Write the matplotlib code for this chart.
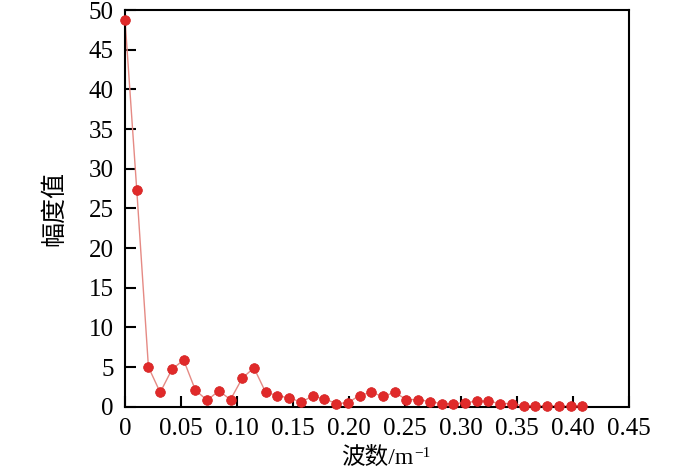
import matplotlib
matplotlib.use('Agg')
import matplotlib.pyplot as plt

plt.rcParams['font.family'] = ['Liberation Serif', 'Noto Sans CJK SC']

# wavenumber (1/m) and amplitude
wavenumber = [0.0000, 0.0105, 0.0209, 0.0314, 0.0419, 0.0523, 0.0628, 0.0733,
              0.0837, 0.0942, 0.1047, 0.1151, 0.1256, 0.1361, 0.1466, 0.1570,
              0.1675, 0.1780, 0.1884, 0.1989, 0.2094, 0.2198, 0.2303, 0.2408,
              0.2512, 0.2617, 0.2722, 0.2826, 0.2931, 0.3036, 0.3140, 0.3245,
              0.3350, 0.3454, 0.3559, 0.3664, 0.3768, 0.3873, 0.3978, 0.4083]
amplitude = [48.8, 27.3, 5.0, 1.8, 4.7, 5.9, 2.1, 0.8,
             2.0, 0.9, 3.6, 4.9, 1.8, 1.4, 1.1, 0.6,
             1.3, 1.0, 0.4, 0.5, 1.4, 1.8, 1.3, 1.8,
             0.9, 0.9, 0.65, 0.4, 0.4, 0.5, 0.7, 0.7,
             0.4, 0.4, 0.1, 0.05, 0.1, 0.05, 0.05, 0.1]

xticks = [0, 0.05, 0.10, 0.15, 0.20, 0.25, 0.30, 0.35, 0.40, 0.45]
xticklabels = ['0', '0.05', '0.10', '0.15', '0.20', '0.25', '0.30', '0.35', '0.40', '0.45']
yticks = [0, 5, 10, 15, 20, 25, 30, 35, 40, 45, 50]

fig = plt.figure(figsize=(7, 4.75), dpi=100)
ax = fig.add_axes([0.1786, 0.1438, 0.72, 0.835])

ax.plot(wavenumber, amplitude, '-', color='#e58a84', lw=1.0, zorder=2)
ax.plot(wavenumber, amplitude, 'o', color='#e02a2a', ms=7, mec='#d42020', mew=0.5, zorder=3,
        clip_on=False)

ax.set_xlim(0, 0.45)
ax.set_ylim(0, 50)
ax.set_xticks(xticks)
ax.set_xticklabels(xticklabels)
ax.set_yticks(yticks)

ax.tick_params(direction='in', length=8, width=1.5, labelsize=18, pad=8, top=False, right=False)
for s in ax.spines.values():
    s.set_linewidth(1.5)

ax.set_ylabel('幅度值', fontsize=18, fontweight='light', labelpad=16)
ax.set_xlabel('波数/m', fontsize=17, fontweight='light', labelpad=5)
# superscript -1 after the unit
ax.annotate('\u22121', xy=(1, 1), xycoords=ax.xaxis.label, xytext=(1, 0),
            textcoords='offset points', ha='left', va='top', fontsize=11)

fig.savefig('out.png', dpi=100)
